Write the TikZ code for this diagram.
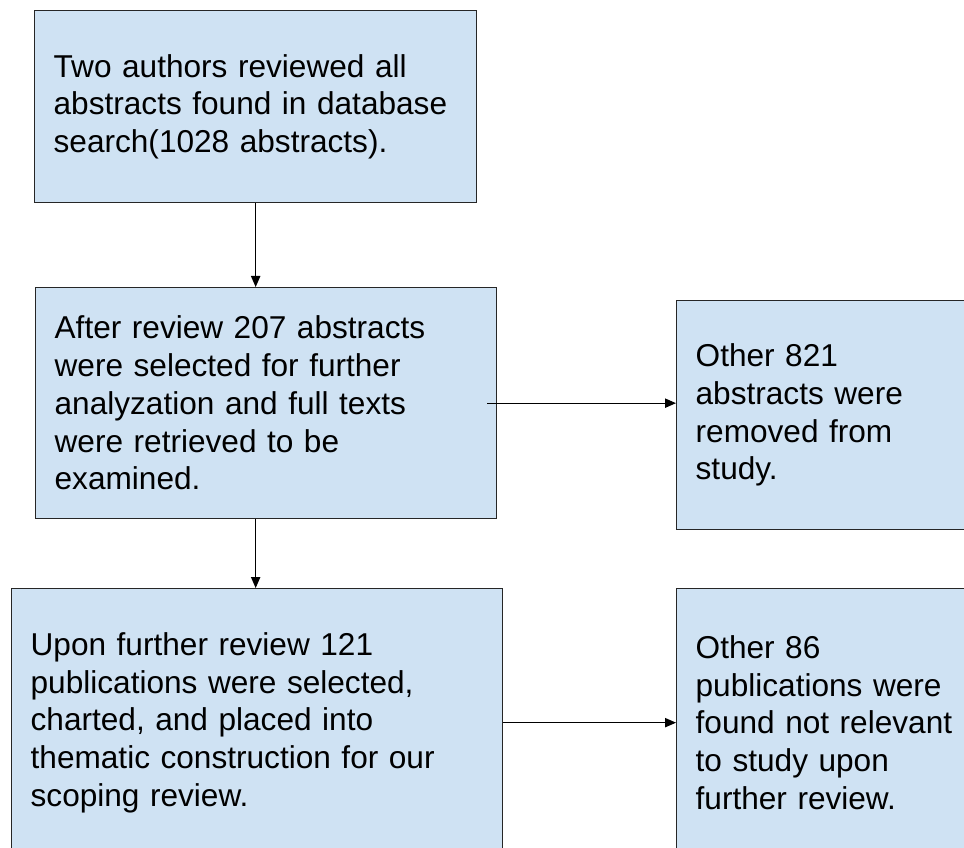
\documentclass[tikz,border=0pt]{standalone}
\usepackage{fontspec}
\setmainfont{Liberation Sans}
\usepackage{xcolor}
\definecolor{boxblue}{HTML}{CFE2F3}
\usetikzlibrary{arrows.meta}

\begin{document}
\begin{tikzpicture}[x=0.75pt,y=-0.75pt,
  stage/.style={rectangle, draw=black!85, line width=1pt, fill=boxblue, anchor=north west,
    inner xsep=14.25pt, inner ysep=0pt, align=left, font=\fontsize{23.7}{28.3}\selectfont},
  flow/.style={-{Triangle[length=8.25pt,width=7pt]}, line width=0.8pt}]
  \useasboundingbox (0,0) rectangle (964,848);
  \clip (0,0) rectangle (964,848);

  % main column
  \node[stage, text width=303pt, minimum height=144pt] (b1) at (34,10)
    {Two authors reviewed all\\abstracts found in database\\search(1028 abstracts).};
  \node[stage, text width=317.25pt, minimum height=173.25pt] (b2) at (35,287)
    {After review 207 abstracts\\were selected for further\\analyzation and full texts\\were retrieved to be\\examined.};
  \node[stage, text width=339.75pt, minimum height=201pt] (b4) at (11,588)
    {Upon further review 121\\publications were selected,\\charted, and placed into\\thematic construction for our\\scoping review.};

  % removed ones
  \node[stage, text width=211.5pt, minimum height=171.75pt] (b3) at (676,300)
    {Other 821\\abstracts were\\removed from\\study.};
  \node[stage, text width=211.5pt, minimum height=201pt] (b5) at (676,588)
    {Other 86\\publications were\\found not relevant\\to study upon\\further review.};

  \draw[flow] (b1.south) -- (b1.south |- b2.north);
  \draw[flow] (b1.south |- b2.south) -- (b1.south |- b4.north);
  \draw[flow] ([xshift=-7.5pt]b2.east) -- (b2.east -| b3.west);
  \draw[flow] (b4.east) -- (b4.east -| b5.west);
\end{tikzpicture}
\end{document}
